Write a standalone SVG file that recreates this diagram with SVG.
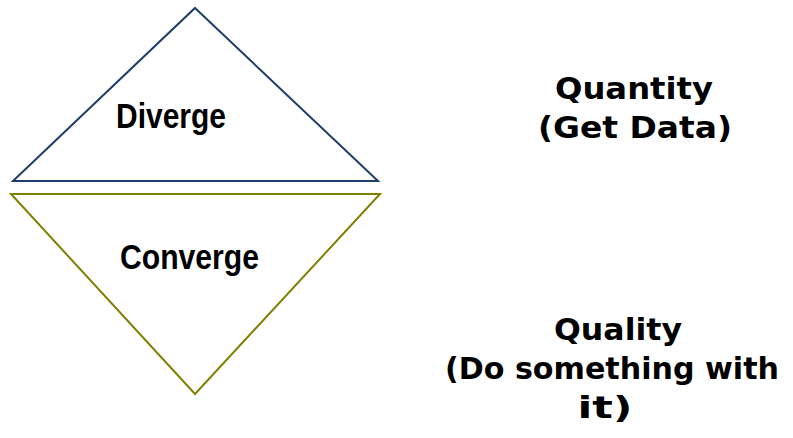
<svg xmlns="http://www.w3.org/2000/svg" width="793" height="438" viewBox="0 0 793 438">
<style>
.tri{fill:#ffffff;stroke-width:2;stroke-linejoin:miter}
.lbl{font-family:"Liberation Sans",Arial,sans-serif;font-weight:bold;font-size:35px;fill:#000}
.side{font-family:"DejaVu Sans","Open Sans",sans-serif;font-weight:bold;font-size:31px;fill:#000;text-anchor:middle}
</style>
<rect width="793" height="438" fill="#ffffff"/>
<g id="diverge">
<polygon class="tri" points="195,8 378,181 13,181" stroke="#1f3d6b"/>
<text class="lbl" x="116" y="128" textLength="110" lengthAdjust="spacingAndGlyphs">Diverge</text>
</g>
<g id="converge">
<polygon class="tri" points="11,194 380,194 195,394" stroke="#7f7f00"/>
<text class="lbl" x="120" y="269" textLength="139" lengthAdjust="spacingAndGlyphs">Converge</text>
</g>
<g id="quantity">
<text class="side" x="634" y="99" textLength="158" lengthAdjust="spacingAndGlyphs">Quantity</text>
<text class="side" x="635" y="138" textLength="194" lengthAdjust="spacingAndGlyphs">(Get Data)</text>
</g>
<g id="quality">
<text class="side" x="618" y="340" textLength="128" lengthAdjust="spacingAndGlyphs">Quality</text>
<text class="side" x="612" y="379" textLength="334" lengthAdjust="spacingAndGlyphs">(Do something with</text>
<text class="side" x="605" y="418" textLength="55" lengthAdjust="spacingAndGlyphs">it)</text>
</g>
<g id="connectors"></g>
</svg>
